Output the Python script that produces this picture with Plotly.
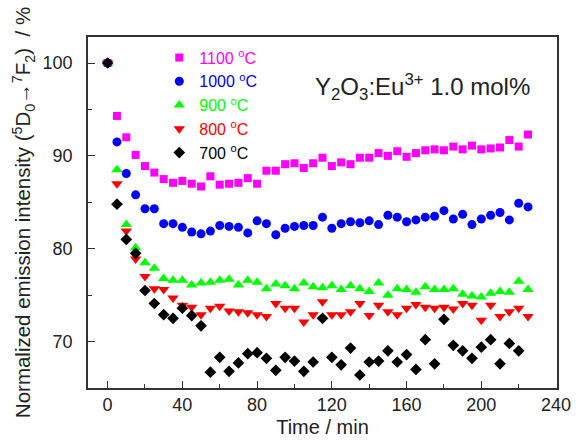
import plotly.graph_objects as go

time_min = [0, 5, 10, 15, 20, 25, 30, 35, 40, 45, 50, 55, 60, 65, 70, 75, 80, 85, 90, 95,
            100, 105, 110, 115, 120, 125, 130, 135, 140, 145, 150, 155, 160, 165, 170, 175,
            180, 185, 190, 195, 200, 205, 210, 215, 220, 225]

s1100 = [100, 94.3, 92.0, 90.1, 88.9, 88.2, 87.5, 87.1, 87.3, 87.0, 86.7, 87.8, 86.9, 87.0, 87.1,
         87.6, 87.0, 88.4, 88.4, 89.1, 89.2, 88.7, 89.2, 89.8, 88.9, 89.3, 89.1, 89.8, 89.8, 90.3,
         90.0, 90.5, 89.9, 90.3, 90.6, 90.7, 90.6, 91.0, 90.7, 91.1, 90.7, 90.8, 90.9, 91.7, 91.0, 92.3]

s1000 = [100, 91.5, 88.1, 85.8, 84.3, 84.3, 82.7, 82.7, 82.3, 81.8, 81.6, 81.9, 82.5, 82.4, 82.3,
         81.7, 83.0, 82.7, 81.5, 82.2, 82.4, 82.5, 82.5, 83.4, 82.2, 82.7, 82.9, 82.8, 83.0, 82.6,
         83.6, 83.4, 82.9, 83.1, 83.4, 83.5, 84.1, 83.2, 83.7, 82.6, 83.2, 83.6, 83.9, 83.1, 84.9, 84.5]

s900 = [100, 88.5, 82.6, 80.1, 78.5, 77.9, 76.8, 76.6, 76.6, 76.1, 76.3, 76.4, 76.6, 76.7, 76.1,
        76.6, 76.4, 75.7, 76.2, 76.0, 75.7, 76.3, 75.9, 75.8, 76.0, 75.6, 76.0, 75.7, 75.4, 76.3,
        75.0, 75.7, 75.6, 75.3, 75.9, 75.6, 75.6, 75.7, 75.1, 74.9, 74.8, 75.2, 75.4, 75.3, 76.5, 75.6]

s800 = [100, 87.0, 81.9, 78.9, 77.0, 75.7, 75.6, 74.7, 73.9, 73.7, 72.9, 73.6, 73.8, 73.3, 73.2,
        73.1, 72.9, 72.7, 74.1, 73.6, 73.6, 72.1, 72.9, 74.3, 72.9, 72.9, 73.2, 74.1, 72.8, 73.9,
        73.2, 72.9, 73.6, 74.0, 73.7, 73.6, 73.7, 73.5, 74.1, 73.9, 72.3, 73.9, 72.7, 73.2, 73.6, 72.7]

time_700 = time_min[:45]
s700 = [100, 84.8, 81.0, 79.5, 75.5, 74.1, 72.9, 72.5, 73.6, 72.8, 71.7, 66.7, 68.3, 66.8, 67.7,
        68.7, 68.8, 68.2, 66.9, 68.3, 67.9, 66.8, 67.8, 72.5, 68.3, 67.5, 69.3, 66.4, 67.8, 67.9,
        69.0, 67.8, 68.6, 67.0, 70.2, 67.6, 72.4, 69.6, 69.0, 68.2, 69.4, 70.2, 67.6, 69.8, 69.0]

series = [
    ("1100", time_min, s1100, "#FF00FF", "square", 8),
    ("1000", time_min, s1000, "#0000FF", "circle", 9),
    ("900", time_min, s900, "#00FF00", "triangle-up", 10),
    ("800", time_min, s800, "#FF0000", "triangle-down", 10),
    ("700", time_700, s700, "#000000", "diamond", 9),
]

FONT = "Arial, 'Liberation Sans', Helvetica, sans-serif"

fig = go.Figure()
for label, xs, ys, color, sym, size in series:
    fig.add_trace(go.Scatter(
        x=xs, y=ys, mode="markers",
        name=f"<span style='color:{color}'>{label} <sup>o</sup>C</span>",
        marker=dict(symbol=sym, size=size, color=color, line=dict(width=0)),
    ))

axis_common = dict(
    showline=True, linecolor="#333333", linewidth=1.5, mirror=True,
    ticks="inside", ticklen=7, tickwidth=1.2, tickcolor="#333333",
    showgrid=False, zeroline=False,
    tickfont=dict(family=FONT, size=18, color="#222222"),
)

fig.update_xaxes(
    range=[-10.5, 240.5], tickmode="array", tickvals=[0, 40, 80, 120, 160, 200, 240],
    minor=dict(ticks="inside", ticklen=4, tickwidth=1.2, tickcolor="#333333",
               tickvals=[20, 60, 100, 140, 180, 220]),
    title=dict(text="Time / min", font=dict(family=FONT, size=20, color="#222222"), standoff=6),
    **axis_common,
)
fig.update_yaxes(
    range=[65, 102.8], tickmode="array", tickvals=[70, 80, 90, 100],
    minor=dict(ticks="inside", ticklen=4, tickwidth=1.2, tickcolor="#333333",
               tickvals=[75, 85, 95]),
    ticklabelstandoff=10,
    title=dict(text="Normalized emission intensity (<sup>5</sup>D<sub>0</sub>\u2192<sup>7</sup>F<sub>2</sub>)  / %",
               font=dict(family=FONT, size=20.5, color="#222222"), standoff=6),
    **axis_common,
)

fig.add_annotation(
    x=0.479, y=0.858, xref="paper", yref="paper", xanchor="left", yanchor="middle",
    text="Y<sub>2</sub>O<sub>3</sub>:Eu<sup>3+</sup> 1.0 mol%", showarrow=False,
    font=dict(family=FONT, size=24, color="#222222"),
)

fig.update_layout(
    width=583, height=447,
    margin=dict(l=88, r=17, t=37, b=57),
    paper_bgcolor="white", plot_bgcolor="white",
    font=dict(family=FONT),
    showlegend=True,
    legend=dict(x=0.152, y=0.99, xanchor="left", yanchor="top",
                bgcolor="rgba(0,0,0,0)", borderwidth=0,
                font=dict(family=FONT, size=16)),
)

fig.write_html("out.html")
